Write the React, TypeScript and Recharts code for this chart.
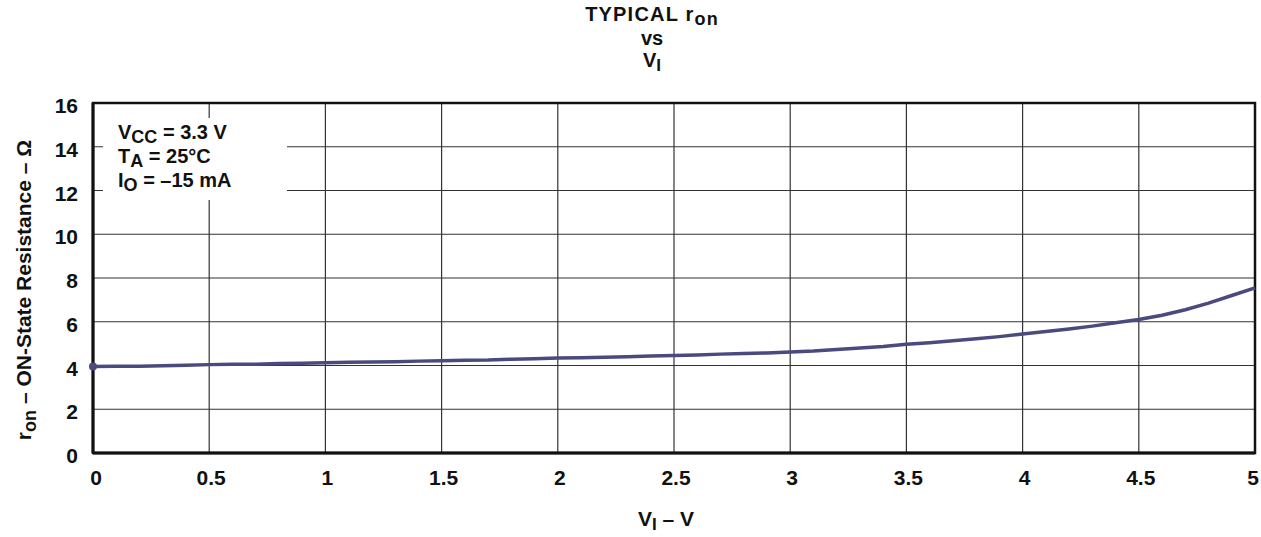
import React from "react";
import {
  LineChart,
  Line,
  XAxis,
  YAxis,
  CartesianGrid,
  ReferenceArea,
} from "recharts";

const vin = [
  0, 0.1, 0.2, 0.3, 0.4, 0.5, 0.6, 0.7, 0.8, 0.9, 1, 1.1, 1.2, 1.3, 1.4, 1.5,
  1.6, 1.7, 1.8, 1.9, 2, 2.1, 2.2, 2.3, 2.4, 2.5, 2.6, 2.7, 2.8, 2.9, 3, 3.1,
  3.2, 3.3, 3.4, 3.5, 3.6, 3.7, 3.8, 3.9, 4, 4.1, 4.2, 4.3, 4.4, 4.5, 4.6, 4.7,
  4.8, 4.9, 5,
];
const ron = [
  3.95, 3.97, 3.97, 3.99, 4.01, 4.04, 4.06, 4.06, 4.09, 4.1, 4.13, 4.15, 4.16,
  4.17, 4.2, 4.22, 4.24, 4.25, 4.29, 4.31, 4.34, 4.35, 4.38, 4.4, 4.43, 4.46,
  4.48, 4.52, 4.55, 4.57, 4.62, 4.66, 4.73, 4.8, 4.87, 4.97, 5.04, 5.13, 5.22,
  5.32, 5.44, 5.55, 5.67, 5.8, 5.95, 6.1, 6.3, 6.55, 6.85, 7.2, 7.55,
];
const xTicks = [0, 0.5, 1, 1.5, 2, 2.5, 3, 3.5, 4, 4.5, 5];
const yTicks = [0, 2, 4, 6, 8, 10, 12, 14, 16];

const data = vin.map((v, i) => ({ v, r: ron[i] }));

const FONT = "'Liberation Sans', Arial, Helvetica, sans-serif";
const W = 1261;
const H = 537;
const INK = "#111";

const XTick = (p: any) => {
  const v = p.payload.value;
  const dx = v === 5 ? -2 : v === 0 ? 3 : 2;
  return (
    <text
      x={p.x + dx}
      y={p.y + 26}
      textAnchor="middle"
      fontSize={21}
      fontWeight={700}
      fontFamily={FONT}
      fill={INK}
    >
      {v}
    </text>
  );
};

const YTick = (p: any) => (
  <text
    x={p.x}
    y={p.y + 10}
    textAnchor="end"
    fontSize={21}
    fontWeight={700}
    fontFamily={FONT}
    fill={INK}
  >
    {p.payload.value}
  </text>
);

export default function App() {
  return (
    <div style={{ position: "relative", width: W, height: H, background: "#fff" }}>
      <style>{`body{margin:0}`}</style>
      <LineChart
        width={W}
        height={H}
        data={data}
        margin={{ top: 103, right: 6, bottom: 0, left: 0 }}
      >
        <CartesianGrid stroke="#333" strokeWidth={1.2} />
        <XAxis
          dataKey="v"
          type="number"
          domain={[0, 5]}
          ticks={xTicks}
          height={84}
          axisLine={{ stroke: INK, strokeWidth: 3 }}
          tickLine={false}
          tickMargin={0}
          tick={<XTick />}
          interval={0}
        />
        <YAxis
          type="number"
          domain={[0, 16]}
          ticks={yTicks}
          width={93}
          axisLine={{ stroke: INK, strokeWidth: 3 }}
          tickLine={false}
          tickMargin={9}
          tick={<YTick />}
          interval={0}
        />
        <ReferenceArea
          x1={0}
          x2={5}
          y1={0}
          y2={16}
          fill="none"
          stroke={INK}
          strokeWidth={2.5}
          ifOverflow="visible"
        />
        <Line
          type="linear"
          dataKey="r"
          stroke="#4b4a7e"
          strokeWidth={3.5}
          isAnimationActive={false}
          dot={(p: any) =>
            p.index === 0 ? (
              <circle key="d0" cx={p.cx} cy={p.cy} r={4} fill="#4b4a7e" />
            ) : (
              <g key={`d${p.index}`} />
            )
          }
        />
      </LineChart>
      <svg
        width={W}
        height={H}
        style={{ position: "absolute", left: 0, top: 0, pointerEvents: "none" }}
        fontFamily={FONT}
        fontWeight={700}
        fill={INK}
      >
        <rect x={103} y={118} width={184} height={82} fill="#fff" />
        <text x={652} y={21} fontSize={20} textAnchor="middle" letterSpacing={1.2}>
          TYPICAL r<tspan fontSize={18} dy={4}>on</tspan>
        </text>
        <text x={652} y={45} fontSize={20} textAnchor="middle">vs</text>
        <text x={652} y={67} fontSize={20} textAnchor="middle">
          V<tspan fontSize={17} dy={4}>I</tspan>
        </text>
        <text x={118} y={139} fontSize={20}>
          V<tspan fontSize={18} dy={4}>CC</tspan>
          <tspan dy={-4}> = 3.3 V</tspan>
        </text>
        <text x={118} y={163} fontSize={20}>
          T<tspan fontSize={18} dy={4}>A</tspan>
          <tspan dy={-4}> = 25°C</tspan>
        </text>
        <text x={118} y={187} fontSize={20}>
          I<tspan fontSize={18} dy={4}>O</tspan>
          <tspan dy={-4}> = –15 mA</tspan>
        </text>
        <text x={666} y={526} fontSize={21} textAnchor="middle">
          V<tspan fontSize={17} dy={4}>I</tspan>
          <tspan dy={-4}> – V</tspan>
        </text>
        <text
          x={0}
          y={0}
          fontSize={21}
          textAnchor="middle"
          transform="translate(31,290) rotate(-90)"
        >
          r<tspan fontSize={18} dy={5}>on</tspan>
          <tspan dy={-5}> – ON-State Resistance – Ω</tspan>
        </text>
      </svg>
    </div>
  );
}
